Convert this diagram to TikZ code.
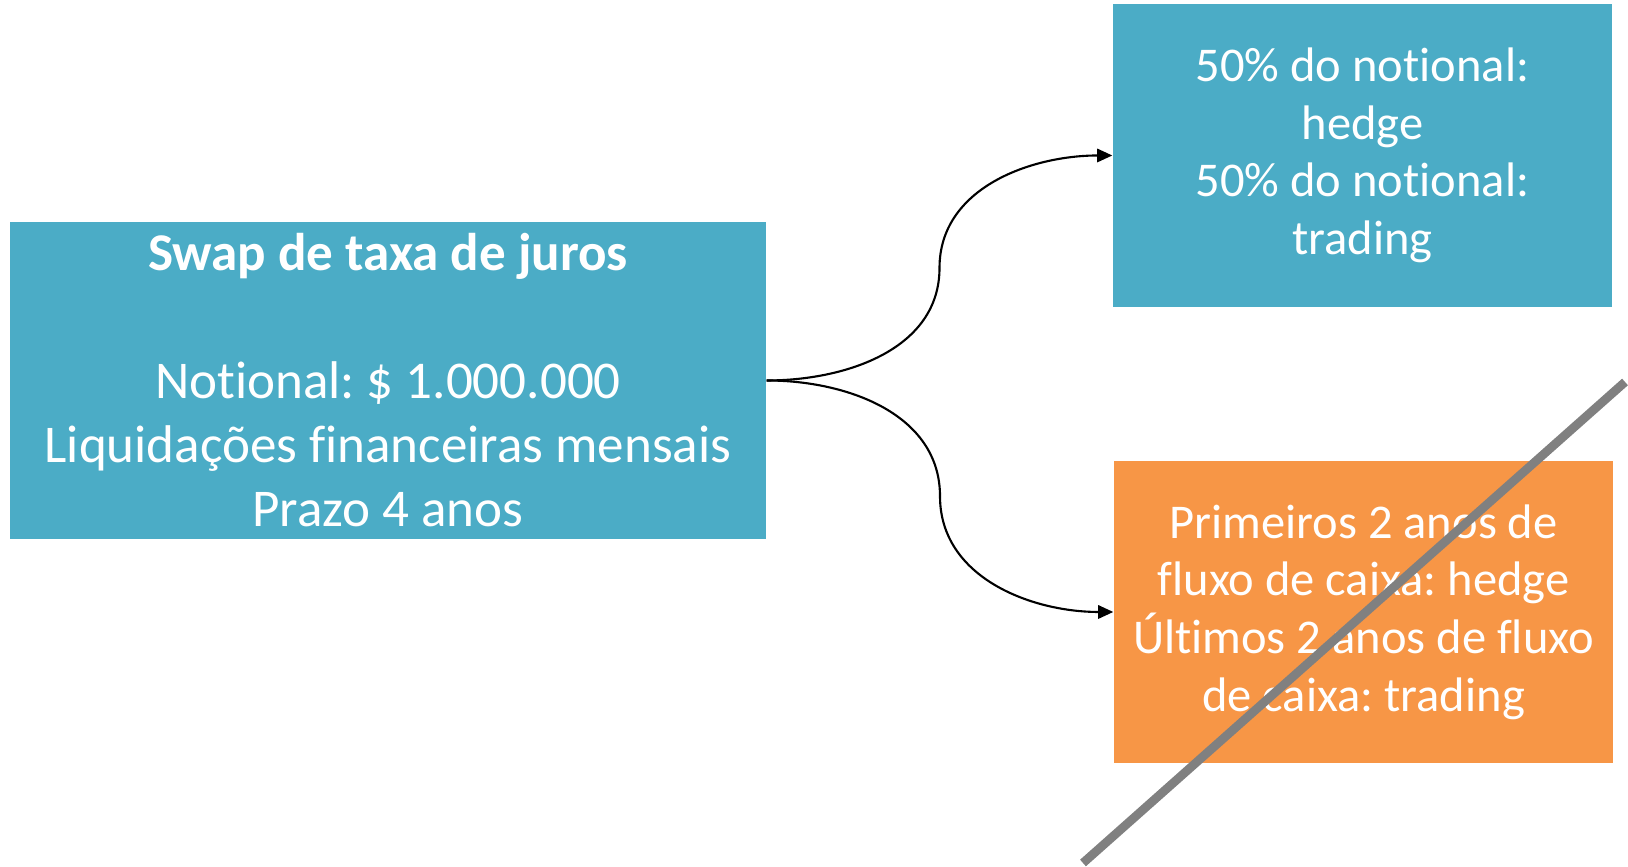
\documentclass[tikz,border=0pt]{standalone}
\usepackage{fontspec}
\setmainfont{Carlito}[Ligatures=NoCommon]
\usetikzlibrary{arrows.meta,calc}

\definecolor{aqua}{HTML}{4BACC6}
\definecolor{laranja}{HTML}{F79646}
\definecolor{cinza}{HTML}{808080}

\tikzset{
  caixa/.style={fill=aqua,text=white,align=center,inner sep=0pt,
    font=\fontsize{13.8}{16.4}\selectfont\frenchspacing},
  seta/.style={line width=0.6pt,-{Triangle[length=4.3pt,width=3.8pt]}},
  risco/.style={cinza,line width=2.5pt}
}

\begin{document}
\begin{tikzpicture}
\useasboundingbox (0,0) rectangle (16.28,8.67);
% caixas
\node[caixa,minimum width=7.56cm,minimum height=3.17cm,
  font=\fontsize{15.1}{18.2}\selectfont\frenchspacing] (swap) at (3.88,4.865)
  {\textbf{Swap de taxa de juros}\\[18.2pt]Notional: \$ 1.000.000\\Liquidações financeiras mensais\\Prazo 4 anos};
\node[caixa,minimum width=4.99cm,minimum height=3.03cm] (hedge) at (13.625,7.115)
  {50\% do notional:\\hedge\\50\% do notional:\\trading};
\node[caixa,fill=laranja,minimum width=4.99cm,minimum height=3.02cm] (fluxo) at (13.635,2.55)
  {Primeiros 2 anos de\\fluxo de caixa: hedge\\Últimos 2 anos de fluxo\\de caixa: trading};
% setas
\coordinate (topmid) at ($(swap.east)!0.5!(hedge.west)$);
\coordinate (botmid) at ($(swap.east)!0.5!(fluxo.west)$);
\draw[seta] (swap.east) to[out=0,in=-90] (topmid) to[out=90,in=180] (hedge.west);
\draw[seta] (swap.east) to[out=0,in=90] (botmid) to[out=-90,in=180] (fluxo.west);
% risco
\coordinate (riscoA) at (16.25,4.85);
\coordinate (riscoB) at (10.83,0.04);
\draw[risco] (riscoA) -- (riscoB);
%\draw[dashed] (swap.north) -- (swap.south);
\end{tikzpicture}
\end{document}
